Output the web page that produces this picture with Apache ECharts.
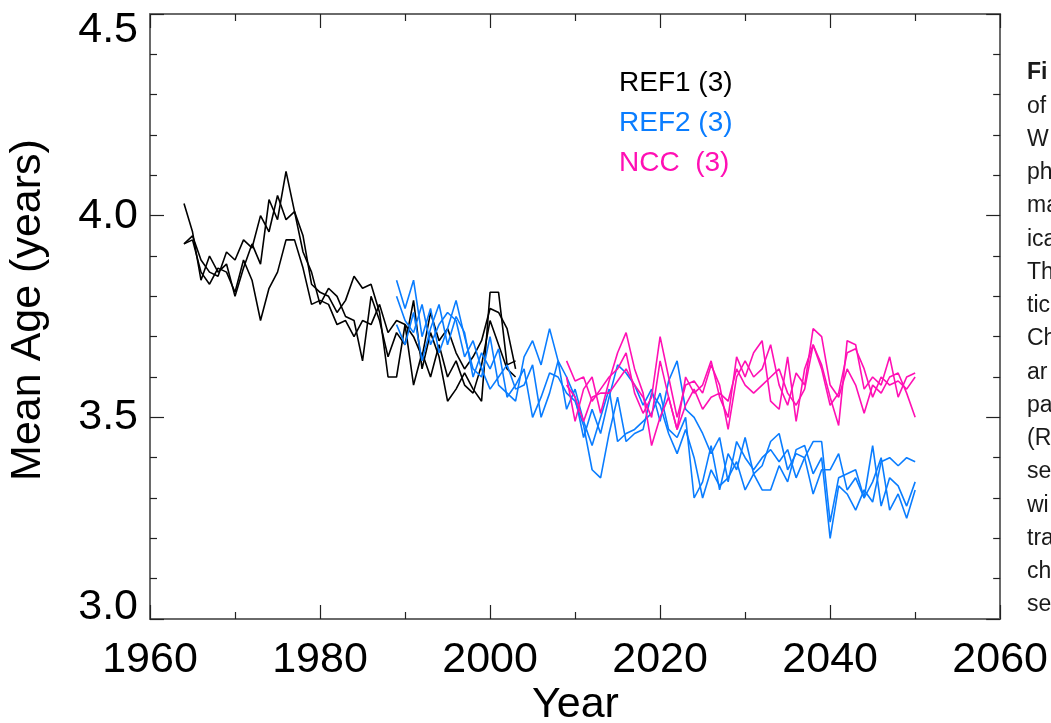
<!DOCTYPE html>
<html>
<head>
<meta charset="utf-8">
<script src="https://cdn.jsdelivr.net/npm/echarts@6/dist/echarts.min.js"></script>
<style>
  html, body { margin: 0; padding: 0; background: #fff; }
  #chart { width: 1051px; height: 723px; }
</style>
</head>
<body>
<div id="chart"></div>
<script>
// Annual mean age of air (years), three members per simulation set
const ref1Start = 1964;
const ref1A = [4.03,3.96,3.84,3.90,3.86,3.88,3.80,3.87,3.93,3.88,
               4.04,3.99,4.11,4.01,3.91,3.86,3.78,3.82,3.80,3.75,
               3.74,3.64,3.80,3.74,3.65,3.71,3.68,3.79,3.62,3.71,
               3.65,3.54,3.57,3.61,3.57,3.54,3.81,3.81,3.63,3.64];
const ref1B = [3.93,3.95,3.89,3.86,3.85,3.91,3.89,3.94,3.92,4.00,
               3.96,4.05,3.99,4.01,3.95,3.83,3.81,3.80,3.76,3.79,
               3.85,3.82,3.83,3.76,3.60,3.60,3.73,3.70,3.65,3.76,
               3.69,3.72,3.66,3.62,3.65,3.69,3.77,3.76,3.72,3.62];
const ref1C = [3.93,3.94,3.86,3.83,3.87,3.86,3.81,3.89,3.84,3.74,
               3.82,3.86,3.94,3.94,3.87,3.78,3.79,3.78,3.73,3.74,
               3.70,3.74,3.73,3.78,3.71,3.74,3.73,3.58,3.66,3.60,
               3.68,3.60,3.64,3.58,3.56,3.63,3.74,3.68,3.62,3.60];

const ref2Start = 1989;
const ref2A = [3.84,3.77,3.84,3.70,3.77,3.66,3.72,3.79,3.70,3.62,
               3.60,3.70,3.58,3.56,3.54,3.65,3.69,3.63,3.72,3.64,
               3.60,3.55,3.45,3.52,3.46,3.55,3.63,3.61,3.58,3.53,
               3.57,3.49,3.59,3.64,3.52,3.50,3.46,3.41,3.45,3.34,
               3.44,3.40,3.37,3.40,3.42,3.39,3.42,3.35,3.40,3.44,
               3.44,3.24,3.35,3.36,3.37,3.30,3.43,3.28,3.35,3.33,
               3.28,3.34];
const ref2B = [3.80,3.74,3.71,3.78,3.68,3.73,3.76,3.74,3.65,3.69,
               3.62,3.57,3.60,3.63,3.57,3.58,3.63,3.50,3.56,3.64,
               3.52,3.57,3.49,3.43,3.50,3.57,3.44,3.46,3.47,3.49,
               3.51,3.56,3.47,3.45,3.50,3.30,3.34,3.43,3.32,3.41,
               3.37,3.45,3.36,3.38,3.44,3.46,3.37,3.41,3.40,3.31,
               3.37,3.37,3.41,3.32,3.35,3.30,3.34,3.40,3.27,3.31,
               3.25,3.32];
const ref2C = [3.73,3.68,3.76,3.64,3.72,3.78,3.68,3.75,3.71,3.60,
               3.66,3.62,3.67,3.55,3.58,3.62,3.50,3.55,3.61,3.60,
               3.56,3.54,3.48,3.37,3.35,3.46,3.55,3.44,3.46,3.47,
               3.56,3.53,3.46,3.41,3.47,3.40,3.30,3.37,3.33,3.35,
               3.39,3.32,3.36,3.32,3.32,3.38,3.34,3.42,3.43,3.36,
               3.40,3.20,3.33,3.31,3.27,3.32,3.29,3.39,3.40,3.38,
               3.40,3.39];

const nccStart = 2009;
const nccA = [3.60,3.49,3.57,3.60,3.51,3.59,3.66,3.71,3.62,3.56,
              3.43,3.50,3.55,3.47,3.60,3.56,3.58,3.64,3.55,3.50,
              3.65,3.60,3.66,3.69,3.54,3.52,3.65,3.49,3.62,3.68,
              3.63,3.55,3.48,3.69,3.68,3.57,3.60,3.58,3.65,3.55,
              3.60,3.61];
const nccB = [3.64,3.59,3.60,3.54,3.57,3.60,3.62,3.66,3.56,3.51,
              3.55,3.70,3.60,3.50,3.58,3.59,3.56,3.63,3.58,3.47,
              3.60,3.64,3.60,3.62,3.68,3.58,3.53,3.61,3.58,3.72,
              3.70,3.58,3.55,3.62,3.58,3.51,3.58,3.56,3.60,3.61,
              3.56,3.50];
const nccC = [3.58,3.55,3.49,3.55,3.56,3.56,3.59,3.62,3.58,3.55,
              3.50,3.64,3.55,3.47,3.53,3.57,3.52,3.55,3.56,3.54,
              3.62,3.58,3.56,3.58,3.60,3.62,3.56,3.53,3.57,3.68,
              3.62,3.53,3.56,3.66,3.67,3.62,3.55,3.60,3.58,3.59,
              3.57,3.60];

const legendLabels = ['REF1 (3)', 'REF2 (3)', 'NCC  (3)'];
const captionLines = ['Fi','of','W','ph','ma','ica','Th','tic','Ch','ar',
                      'pa','(R','se','wi','tra','ch','se'];

const COLORS = { ref1: '#000000', ref2: '#0a7dff', ncc: '#ff10b4' };
const FONT = '"Liberation Sans", Arial, Helvetica, sans-serif';

function pairs(start, values) {
  return values.map((v, i) => [start + i, v]);
}

function lineSeries(name, start, values, color) {
  return {
    name: name,
    type: 'line',
    data: pairs(start, values),
    showSymbol: false,
    symbol: 'none',
    clip: true,
    lineStyle: { color: color, width: 1.6 },
    emphasis: { disabled: true },
    animation: false
  };
}

const axisLineStyle = { color: '#6a6a6a', width: 2 };
const tickStyle = { color: '#222', width: 1.2 };

function xAxisDef(position, showLabels) {
  return {
    type: 'value', position: position,
    min: 1960, max: 2060, interval: 20,
    axisLine: { show: true, onZero: false, lineStyle: axisLineStyle },
    axisTick: { show: true, inside: true, length: 14, lineStyle: tickStyle },
    minorTick: { show: true, splitNumber: 2, length: 7, lineStyle: tickStyle },
    splitLine: { show: false },
    axisLabel: {
      show: showLabels, margin: 20, fontSize: 43, color: '#000',
      fontFamily: FONT, formatter: v => String(v)
    }
  };
}

const yRich = {
  lo: { fontSize: 43, fontFamily: FONT, color: '#000', padding: [0, 0, 24, 0] },
  hi: { fontSize: 43, fontFamily: FONT, color: '#000', padding: [32, 0, 0, 0] }
};

function yAxisDef(position, showLabels) {
  return {
    type: 'value', position: position,
    min: 3.0, max: 4.5, interval: 0.5,
    axisLine: { show: true, onZero: false, lineStyle: axisLineStyle },
    axisTick: { show: true, inside: true, length: 14, lineStyle: tickStyle },
    minorTick: { show: true, splitNumber: 5, length: 7, lineStyle: tickStyle },
    splitLine: { show: false },
    axisLabel: {
      show: showLabels, margin: 12, fontSize: 43, color: '#000',
      fontFamily: FONT, rich: yRich,
      formatter: v => {
        const s = v.toFixed(1);
        if (Math.abs(v - 3.0) < 1e-6) return '{lo|' + s + '}';
        if (Math.abs(v - 4.5) < 1e-6) return '{hi|' + s + '}';
        return s;
      }
    }
  };
}

const legendColors = [COLORS.ref1, COLORS.ref2, COLORS.ncc];
const graphics = [];
legendLabels.forEach((t, i) => {
  graphics.push({
    type: 'text', left: 619, top: 85 + 40 * i - 16, silent: true,
    style: { text: t, fill: legendColors[i], font: '28px ' + FONT, textVerticalAlign: 'top' }
  });
});
captionLines.forEach((t, i) => {
  graphics.push({
    type: 'text', x: 1027, y: 73 + 33.25 * i, silent: true,
    style: {
      text: t, fill: '#1a1a1a',
      font: (i === 0 ? 'bold ' : '') + '23px ' + FONT,
      textAlign: 'left', textVerticalAlign: 'middle'
    }
  });
});
graphics.push({
  type: 'text', x: 575.5, y: 705, silent: true,
  style: { text: 'Year', fill: '#000', font: '43px ' + FONT, textAlign: 'center', textVerticalAlign: 'middle' }
});
graphics.push({
  type: 'text', x: 28, y: 310, rotation: Math.PI / 2, silent: true,
  style: { text: 'Mean Age (years)', fill: '#000', font: '43px ' + FONT, textAlign: 'center', textVerticalAlign: 'middle' }
});

const chart = echarts.init(document.getElementById('chart'), null, { renderer: 'canvas' });
chart.setOption({
  backgroundColor: '#ffffff',
  animation: false,
  grid: { left: 150, right: 50, top: 14, bottom: 104, containLabel: false },
  xAxis: [xAxisDef('bottom', true), xAxisDef('top', false)],
  yAxis: [yAxisDef('left', true), yAxisDef('right', false)],
  graphic: graphics,
  series: [
    lineSeries('REF1', ref1Start, ref1A, COLORS.ref1),
    lineSeries('REF1', ref1Start, ref1B, COLORS.ref1),
    lineSeries('REF1', ref1Start, ref1C, COLORS.ref1),
    lineSeries('REF2', ref2Start, ref2A, COLORS.ref2),
    lineSeries('REF2', ref2Start, ref2B, COLORS.ref2),
    lineSeries('REF2', ref2Start, ref2C, COLORS.ref2),
    lineSeries('NCC', nccStart, nccA, COLORS.ncc),
    lineSeries('NCC', nccStart, nccB, COLORS.ncc),
    lineSeries('NCC', nccStart, nccC, COLORS.ncc)
  ]
});
</script>
</body>
</html>
